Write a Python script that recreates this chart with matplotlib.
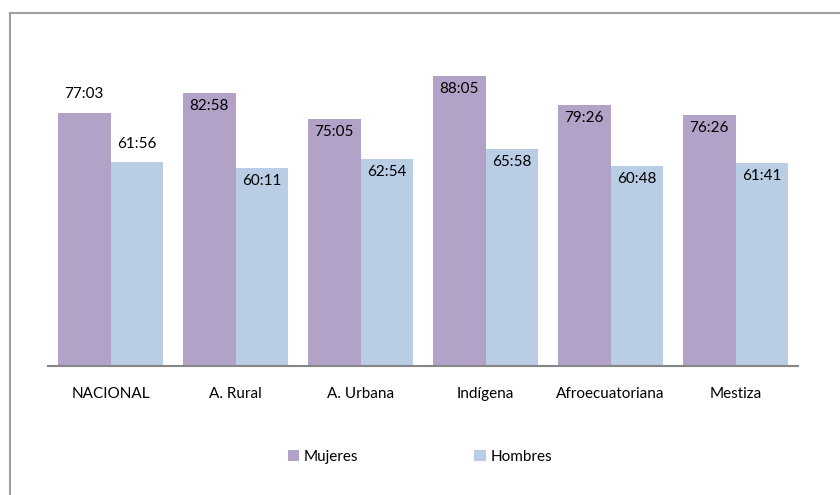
import matplotlib.pyplot as plt
import matplotlib.patches as patches
import numpy as np

plt.rcParams['font.family'] = ['Lato', 'DejaVu Sans']

categorias = ['NACIONAL', 'A. Rural', 'A. Urbana', 'Indígena', 'Afroecuatoriana', 'Mestiza']
mujeres = ['77:03', '82:58', '75:05', '88:05', '79:26', '76:26']
hombres = ['61:56', '60:11', '62:54', '65:58', '60:48', '61:41']

color_m = '#B3A2C7'
color_h = '#B9CDE5'


def horas(txt):
    h, m = txt.split(':')
    return int(h) + int(m) / 60.0


val_m = [horas(t) for t in mujeres]
val_h = [horas(t) for t in hombres]

fig = plt.figure(figsize=(8.4, 4.95), dpi=100)
ax = fig.add_axes([48 / 840, 129 / 495, 750 / 840, 329 / 495])

x = np.arange(len(categorias))
w = 0.42
bm = ax.bar(x - w / 2, val_m, w, color=color_m, label='Mujeres')
bh = ax.bar(x + w / 2, val_h, w, color=color_h, label='Hombres')

# etiquetas: NACIONAL encima de la barra, el resto dentro del extremo
for i in range(len(categorias)):
    for b, txt in ((bm[i], mujeres[i]), (bh[i], hombres[i])):
        cx = b.get_x() + b.get_width() / 2
        if i == 0:
            ax.annotate(txt, (cx, b.get_height()), xytext=(0, 13), textcoords='offset points',
                        ha='center', va='center', fontsize=11, annotation_clip=False)
        else:
            ax.annotate(txt, (cx, b.get_height()), xytext=(0, -9.5), textcoords='offset points',
                        ha='center', va='center', fontsize=11)

ax.set_xlim(-0.5, len(categorias) - 0.5)
ax.set_ylim(0, 100)
ax.set_yticks([])
ax.set_xticks(x)
ax.set_xticklabels(categorias, fontsize=11)
ax.tick_params(axis='x', length=0, pad=15)
for s in ('top', 'right', 'left'):
    ax.spines[s].set_visible(False)
ax.spines['bottom'].set_color('#868686')
ax.spines['bottom'].set_linewidth(1.5)

fig.legend(handles=[bm, bh], loc='center', bbox_to_anchor=(0.5, 38 / 495), ncol=2, frameon=False,
           fontsize=11, handlelength=0.75, handleheight=0.75, handletextpad=0.3, columnspacing=7.6)

border = patches.Rectangle((10 / 840, -0.1), 2, (495 - 13) / 495 + 0.1, transform=fig.transFigure,
                           fill=False, edgecolor='#A0A0A0', linewidth=1.5)
fig.patches.append(border)

fig.savefig('out.png', dpi=100)
